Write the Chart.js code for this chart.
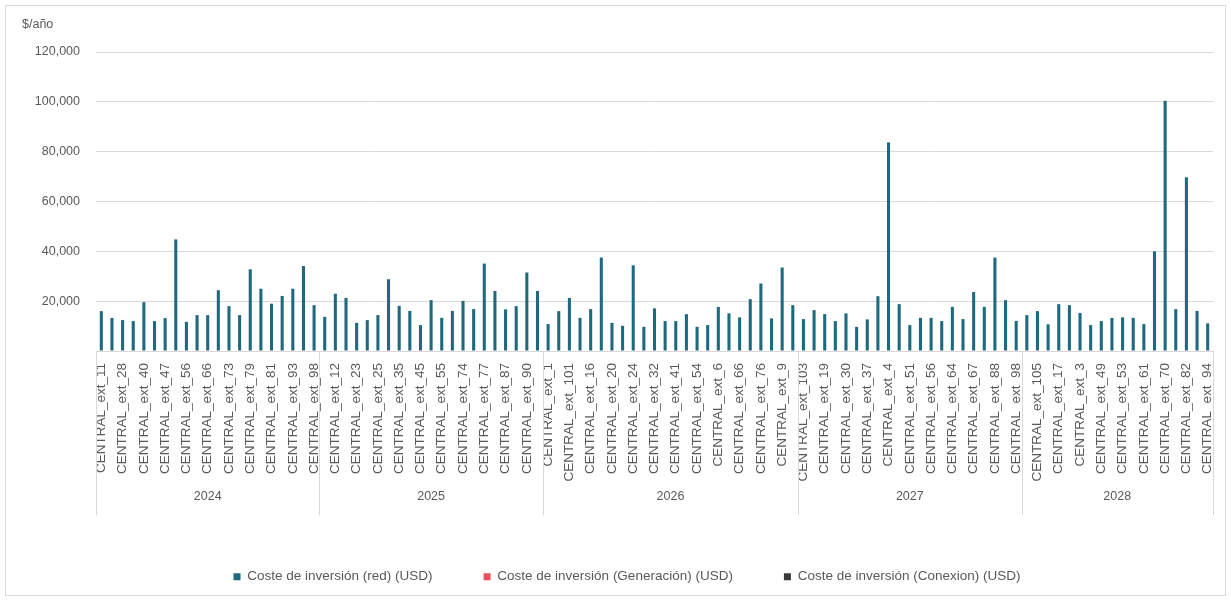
<!DOCTYPE html>
<html>
<head>
<meta charset="utf-8">
<script src="https://cdn.jsdelivr.net/npm/chart.js@4/dist/chart.umd.min.js"></script>
<style>
  html, body { margin: 0; padding: 0; background: #ffffff; }
  canvas { display: block; }
</style>
</head>
<body>
<canvas id="c" width="1231" height="601"></canvas>
<script>
// ---------- DATA ----------
const yearGroups = ['2024', '2025', '2026', '2027', '2028'];
const groupSizes = [21, 21, 24, 21, 18];

// Category labels (only every second label is legible/shown in the reference; hidden ones left blank)
const labels2024 = ['CENTRAL_ext_11','','CENTRAL_ext_28','','CENTRAL_ext_40','','CENTRAL_ext_47','','CENTRAL_ext_56','','CENTRAL_ext_66','','CENTRAL_ext_73','','CENTRAL_ext_79','','CENTRAL_ext_81','','CENTRAL_ext_93','','CENTRAL_ext_98'];
const labels2025 = ['','CENTRAL_ext_12','','CENTRAL_ext_23','','CENTRAL_ext_25','','CENTRAL_ext_35','','CENTRAL_ext_45','','CENTRAL_ext_55','','CENTRAL_ext_74','','CENTRAL_ext_77','','CENTRAL_ext_87','','CENTRAL_ext_90',''];
const labels2026 = ['CENTRAL_ext_1','','CENTRAL_ext_101','','CENTRAL_ext_16','','CENTRAL_ext_20','','CENTRAL_ext_24','','CENTRAL_ext_32','','CENTRAL_ext_41','','CENTRAL_ext_54','','CENTRAL_ext_6','','CENTRAL_ext_66','','CENTRAL_ext_76','','CENTRAL_ext_9',''];
const labels2027 = ['CENTRAL_ext_103','','CENTRAL_ext_19','','CENTRAL_ext_30','','CENTRAL_ext_37','','CENTRAL_ext_4','','CENTRAL_ext_51','','CENTRAL_ext_56','','CENTRAL_ext_64','','CENTRAL_ext_67','','CENTRAL_ext_88','','CENTRAL_ext_98'];
const labels2028 = ['','CENTRAL_ext_105','','CENTRAL_ext_17','','CENTRAL_ext_3','','CENTRAL_ext_49','','CENTRAL_ext_53','','CENTRAL_ext_61','','CENTRAL_ext_70','','CENTRAL_ext_82','','CENTRAL_ext_94'];

// Coste de inversión (red) (USD)
const red2024 = [16000,13300,12400,12000,19600,12000,13200,44800,11700,14400,14400,24400,18000,14400,32800,25000,19000,22100,25000,34100,18400];
const red2025 = [13700,23000,21300,11300,12400,14400,28800,18100,16100,10400,20400,13300,16100,20100,16800,35100,24100,16700,18000,31500,24100];
const red2026 = [10800,16000,21300,13300,16800,37500,11300,10100,34400,9700,17100,12000,12000,14800,9700,10400,17700,15100,13500,20800,27100,13100,33500,18400];
const red2027 = [12800,16400,14800,12000,15100,9700,12700,22000,83700,18800,10400,13300,13300,12000,17700,12800,23700,17700,37500,20400,12100];
const red2028 = [14400,16000,10700,18800,18400,15300,10400,12000,13300,13500,13300,10800,40000,100400,16800,69700,16100,11100];

// The other two series have no visible bars
const generacionValues = [];
const conexionValues = [];

const yTicks = [0, 20000, 40000, 60000, 80000, 100000, 120000];
const seriesNames = ['Coste de inversión (red) (USD)', 'Coste de inversión (Generación) (USD)', 'Coste de inversión (Conexion) (USD)'];
const yUnit = '$/año';

// ---------- BUILD ----------
const categories = [].concat(labels2024, labels2025, labels2026, labels2027, labels2028);
const redValues = [].concat(red2024, red2025, red2026, red2027, red2028);

const FONT = "'Liberation Sans', Arial, sans-serif";
const TEXT = '#595959';
const GRID = '#d9d9d9';
const LEGEND_BOX_H = 82;
const LEGEND_SHIFT = 18;

const extrasPlugin = {
  id: 'extras',
  beforeInit(chart) {
    const lg = chart.legend;
    if (lg && !lg._patched) {
      const orig = lg.fit;
      lg.fit = function () { orig.call(this); this.height = LEGEND_BOX_H; };
      lg._patched = true;
    }
  },
  afterLayout(chart) {
    const lg = chart.legend;
    if (lg) { lg.left += LEGEND_SHIFT; lg.right += LEGEND_SHIFT; }
  },
  beforeDraw(chart) {
    const ctx = chart.ctx;
    ctx.save();
    ctx.strokeStyle = GRID;
    ctx.lineWidth = 1;
    ctx.strokeRect(5.5, 5.5, chart.width - 11, chart.height - 11);
    ctx.restore();
  },
  afterDraw(chart) {
    const ctx = chart.ctx;
    const xs = chart.scales.x;
    const area = chart.chartArea;
    const half = (xs.getPixelForValue(1) - xs.getPixelForValue(0)) / 2;
    ctx.save();
    ctx.fillStyle = TEXT;
    ctx.font = "12.5px " + FONT;
    ctx.textAlign = 'left';
    ctx.textBaseline = 'middle';
    ctx.fillText(yUnit, 22, 25);
    ctx.strokeStyle = GRID;
    ctx.lineWidth = 1;
    let start = 0;
    const bounds = [];
    for (let g = 0; g < groupSizes.length; g++) {
      const end = start + groupSizes[g] - 1;
      const x0 = xs.getPixelForValue(start) - half;
      const x1 = xs.getPixelForValue(end) + half;
      bounds.push(x0);
      if (g === groupSizes.length - 1) bounds.push(x1);
      ctx.fillStyle = TEXT;
      ctx.font = "12.5px " + FONT;
      ctx.textAlign = 'center';
      ctx.textBaseline = 'middle';
      ctx.fillText(yearGroups[g], (x0 + x1) / 2, 497);
      start = end + 1;
    }
    bounds.forEach(b => {
      const x = Math.round(b) + 0.5;
      ctx.beginPath();
      ctx.moveTo(x, area.bottom);
      ctx.lineTo(x, 515);
      ctx.stroke();
    });
    ctx.restore();
  }
};

new Chart(document.getElementById('c'), {
  type: 'bar',
  data: {
    labels: categories,
    datasets: [
      { label: seriesNames[0], data: redValues, backgroundColor: '#1d6a80', barPercentage: 0.36, categoryPercentage: 0.8 },
      { label: seriesNames[1], data: generacionValues, backgroundColor: '#e8505b', barPercentage: 0.36, categoryPercentage: 0.8 },
      { label: seriesNames[2], data: conexionValues, backgroundColor: '#3a3a3a', barPercentage: 0.36, categoryPercentage: 0.8 }
    ]
  },
  options: {
    responsive: false,
    animation: false,
    devicePixelRatio: 1,
    layout: { padding: { top: 52, left: 5, right: 18, bottom: 0 } },
    plugins: {
      title: { display: false },
      tooltip: { enabled: false },
      legend: {
        position: 'bottom',
        labels: {
          boxWidth: 7, boxHeight: 7, padding: 51,
          color: TEXT, font: { family: FONT, size: 13.5 }
        }
      }
    },
    scales: {
      x: {
        stacked: true,
        grid: { display: false },
        border: { display: true, color: GRID },
        ticks: {
          autoSkip: false, maxRotation: 90, minRotation: 90, padding: 4,
          color: TEXT, font: { family: FONT, size: 13.5 }
        },
        afterFit(scale) { scale.height = 168; }
      },
      y: {
        stacked: true,
        min: 0, max: 120000,
        afterBuildTicks(scale) { scale.ticks = yTicks.map(v => ({ value: v })); },
        grid: { color: GRID, drawTicks: false },
        border: { display: false },
        ticks: {
          padding: 16, color: TEXT, font: { family: FONT, size: 12.5 },
          callback: (v) => v === 0 ? '' : v.toLocaleString('en-US')
        },
        afterFit(scale) { scale.width = 91; }
      }
    }
  },
  plugins: [extrasPlugin]
});
</script>
</body>
</html>
